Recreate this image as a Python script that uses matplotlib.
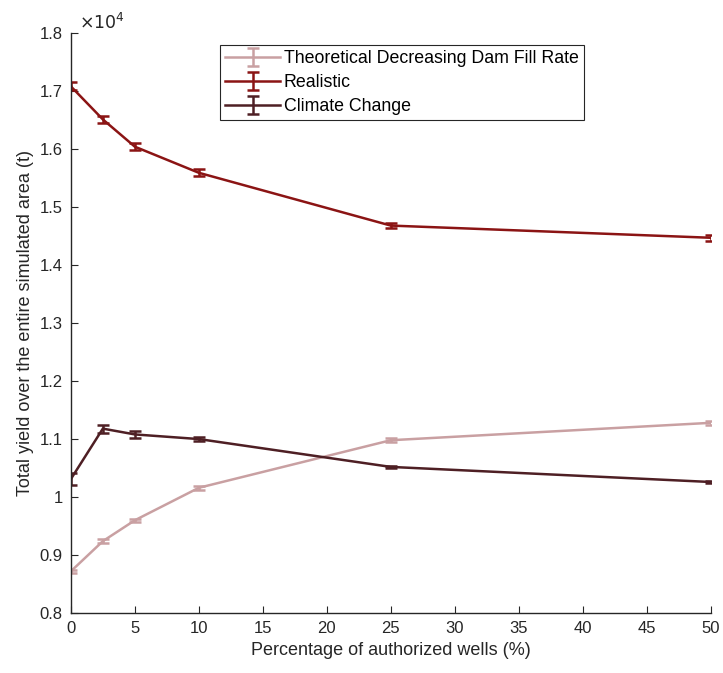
import numpy as np
import matplotlib.pyplot as plt
from matplotlib.ticker import FuncFormatter, MultipleLocator

plt.rcParams['font.family'] = ['Liberation Sans', 'DejaVu Sans']

wells = [0, 2.5, 5, 10, 25, 50]

theoretical = [8720, 9240, 9600, 10160, 10980, 11280]
theoretical_err = [30, 30, 30, 30, 30, 40]

realistic = [17080, 16510, 16040, 15590, 14680, 14470]
realistic_err = [70, 60, 60, 60, 50, 50]

climate = [10310, 11180, 11080, 11000, 10520, 10260]
climate_err = [110, 70, 60, 40, 20, 20]

labels = ['Theoretical Decreasing Dam Fill Rate', 'Realistic', 'Climate Change']
colors = ['#c9a0a2', '#8b1414', '#4e1f24']

fig = plt.figure(figsize=(7.23, 6.73), dpi=100)
ax = fig.add_axes([0.098, 0.089, 0.885, 0.862])

series = [(theoretical, theoretical_err), (realistic, realistic_err), (climate, climate_err)]
for (vals, errs), lab, col in zip(series, labels, colors):
    ax.errorbar(wells, vals, yerr=errs, color=col, lw=1.8, capsize=4,
                elinewidth=1.8, capthick=1.8, label=lab)

ax.set_xlim(0, 50)
ax.set_ylim(8000, 18000)
ax.xaxis.set_major_locator(MultipleLocator(5))
ax.yaxis.set_major_locator(MultipleLocator(1000))
ax.yaxis.set_major_formatter(FuncFormatter(lambda v, p: f"{v/1e4:g}"))
ax.spines['top'].set_visible(False)
ax.spines['right'].set_visible(False)
for s in ['left', 'bottom']:
    ax.spines[s].set_color('#262626')
    ax.spines[s].set_linewidth(1.0)
ax.tick_params(direction='in', length=5, labelsize=12, colors='#262626', pad=6)
ax.text(0.012, 1.002, r'$\times10^4$', transform=ax.transAxes, fontsize=12.5,
        color='#262626', ha='left', va='bottom')

ax.set_xlabel('Percentage of authorized wells (%)', fontsize=13, color='#262626')
ax.set_ylabel('Total yield over the entire simulated area (t)', fontsize=13, color='#262626')

leg = ax.legend(loc='upper left', bbox_to_anchor=(0.233, 0.979), fontsize=12.8,
                fancybox=False, edgecolor='#262626', framealpha=1,
                handlelength=3.1, borderpad=0.3, labelspacing=0.38, handletextpad=0.2,
                borderaxespad=0)
leg.get_frame().set_linewidth(0.8)

fig.savefig('out.png', dpi=100)
